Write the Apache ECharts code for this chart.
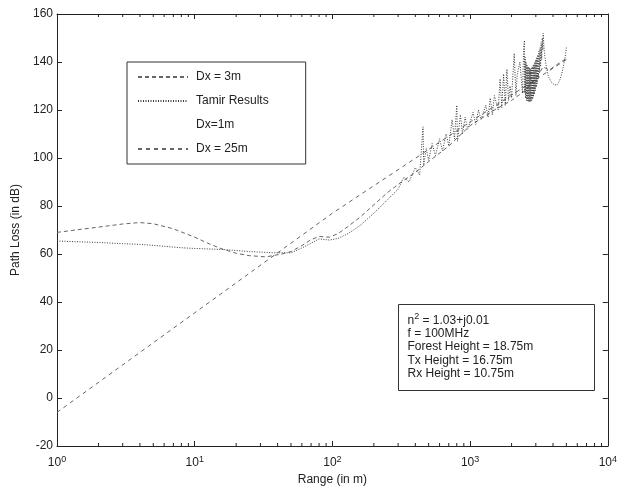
<!DOCTYPE html>
<html>
<head>
<meta charset="utf-8">
<script src="https://cdn.jsdelivr.net/npm/echarts@6/dist/echarts.min.js"></script>
<style>
  html, body { margin: 0; padding: 0; background: #fff; }
  #chart { width: 620px; height: 491px; }
</style>
</head>
<body>
<div id="chart"></div>
<script>
// Path loss vs range over a forest, several step sizes
const dx3Range = [1, 1.5, 2, 3, 4, 5, 7, 10, 13, 16, 20, 25, 33, 43, 50, 60, 70, 80, 95, 110, 130, 160, 200, 250, 300, 400, 500, 700, 1000, 1500, 2000, 2500, 3000, 3390, 3740, 4300, 5000];
const dx3Loss  = [69, 70.3, 71.2, 72.5, 73.1, 72.6, 70.5, 67, 64, 62, 60.3, 59.3, 58.8, 60, 61, 63.5, 66, 67.3, 67, 68.5, 71.5, 75.5, 80.5, 85.5, 89, 94, 98.5, 105, 113.5, 120, 124, 128, 133, 138, 136.6, 139, 141.5];

const tamirRange = [1, 2, 3, 4, 5, 8, 10, 16, 25, 38, 50, 60, 70, 80, 95, 110, 130, 160, 200, 250,
  300, 330, 360, 400, 430, 455, 460, 480, 500, 530, 560, 600, 630, 670, 700, 740, 770, 800, 810, 850, 880, 920, 960, 1000,
  1050, 1100, 1150, 1200, 1300, 1350, 1400, 1450, 1500, 1600, 1650, 1700, 1750, 1800, 1850, 1900, 1950, 2000, 2090, 2150, 2200, 2300, 2400, 2450,
  2480, 2495, 2510, 2525, 2545, 2565, 2585, 2605, 2625, 2645, 2665, 2685, 2705, 2725, 2745, 2765, 2785, 2805, 2825, 2845, 2865, 2885, 2905, 2925,
  2950, 2975, 3000, 3025, 3050, 3075, 3100, 3130, 3160, 3190, 3220, 3250, 3280, 3310, 3340, 3370, 3390,
  3450, 3550, 3700, 3900, 4100, 4280, 4450, 4600, 4750, 4900, 5000];
const tamirLoss = [65.4, 64.8, 64.3, 64, 63.6, 62.6, 62.3, 61.9, 61, 60.5, 60.5, 62.5, 64.5, 66.3, 65.8, 66.5, 68.5, 72, 77, 82.5,
  87, 92, 90, 96, 93, 113, 97, 104, 99, 106, 101, 108, 103, 110, 105, 116, 108, 122, 107, 118, 110, 117, 112, 115,
  119, 114, 120, 116, 122, 117, 125, 118, 126, 120, 133, 121, 135, 122, 137, 124, 130, 125, 143.6, 126, 135, 140, 127, 146,
  149, 127, 142, 125, 140, 124, 139, 123.8, 138, 123.5, 138, 123.3, 137.5, 123.5, 137, 123.5, 137.5, 124, 138, 124.5, 138.5, 125.5, 139, 126.5,
  140, 128, 141, 129.5, 142, 131, 143, 133, 144.5, 135.5, 146, 138, 148, 141, 150, 145, 152,
  145, 139, 134, 131.5, 130.5, 130.5, 132, 134.5, 138, 142, 146];

// no samples are plotted for the 1 m step
const dx1Range = [];
const dx1Loss  = [];

const dx25Range = [1, 10, 100, 1000, 5000];
const dx25Loss  = [-6, 35.5, 77, 115, 141];

const yTicks = [-20, 0, 20, 40, 60, 80, 100, 120, 140, 160];
const minorTickValues = [2, 3, 4, 5, 6, 7, 8, 9, 20, 30, 40, 50, 60, 70, 80, 90,
  200, 300, 400, 500, 600, 700, 800, 900, 2000, 3000, 4000, 5000, 6000, 7000, 8000, 9000];

const infoLines = ['n{sup|2} = 1.03+j0.01', 'f = 100MHz', 'Forest Height = 18.75m', 'Tx Height = 16.75m', 'Rx Height = 10.75m'];

const pairs = (xs, ys) => xs.map((x, i) => [x, ys[i]]);
const FONT = '"Liberation Sans", Arial, sans-serif';
const INK = '#222';
const FS = 12;

const chart = echarts.init(document.getElementById('chart'));

const axisCommon = {
  axisLine: { show: true, onZero: false, lineStyle: { color: INK, width: 1 } },
  axisTick: { show: true, inside: true, length: 5, lineStyle: { color: INK } },
  splitLine: { show: false }
};

const supRich = { sup: { fontSize: 9, fontFamily: FONT, color: INK, verticalAlign: 'top', padding: [0, 0, 7, 0] } };
const hidden = { color: 'rgba(0,0,0,0)', opacity: 0 };

chart.setOption({
  animation: false,
  backgroundColor: '#fff',
  grid: { left: 57, right: 9, top: 14, bottom: 40 },
  legend: {
    orient: 'vertical',
    left: 127,
    top: 62,
    itemWidth: 50,
    itemHeight: 12,
    itemGap: 12,
    padding: [9, 37, 9, 10],
    borderColor: '#333',
    borderWidth: 1,
    backgroundColor: '#fff',
    itemStyle: { opacity: 0 },
    textStyle: { fontFamily: FONT, fontSize: FS, color: INK, padding: [0, 0, 0, 3] },
    data: ['Dx = 3m', 'Tamir Results', 'Dx=1m', 'Dx = 25m']
  },
  xAxis: [
    Object.assign({
      type: 'log', logBase: 10, min: 1, max: 10000, position: 'bottom',
      name: 'Range (in m)', nameLocation: 'middle', nameGap: 28,
      nameTextStyle: { fontFamily: FONT, fontSize: FS, color: INK },
      axisLabel: {
        margin: 9, fontFamily: FONT, fontSize: FS, color: INK,
        formatter: v => '10{sup|' + Math.round(Math.log10(v)) + '}',
        rich: supRich
      }
    }, axisCommon),
    Object.assign({
      type: 'log', logBase: 10, min: 1, max: 10000, position: 'top',
      axisLabel: { show: false }
    }, axisCommon)
  ],
  yAxis: [
    Object.assign({
      type: 'value', min: yTicks[0], max: yTicks[yTicks.length - 1], interval: 20, position: 'left',
      name: 'Path Loss (in dB)', nameLocation: 'middle', nameGap: 30,
      nameTextStyle: { fontFamily: FONT, fontSize: FS, color: INK },
      axisLabel: { margin: 4, fontFamily: FONT, fontSize: FS, color: INK }
    }, axisCommon),
    Object.assign({
      type: 'value', min: yTicks[0], max: yTicks[yTicks.length - 1], interval: 20, position: 'right',
      axisLabel: { show: false }
    }, axisCommon)
  ],
  graphic: [
    {
      type: 'group', left: 398, top: 304, silent: true,
      children: [
        { type: 'rect', shape: { x: 0, y: 0, width: 196, height: 86 },
          style: { fill: '#fff', stroke: '#333', lineWidth: 1 } }
      ].concat(infoLines.map((t, i) => ({
        type: 'text', x: 9, y: 16 + i * 13.3,
        style: { text: t, fontFamily: FONT, fontSize: FS, fill: INK, verticalAlign: 'middle', rich: {
          sup: { fontSize: 9, fontFamily: FONT, fill: INK, verticalAlign: 'top', padding: [0, 0, 7, 0] } } }
      })))
    }
  ],
  series: [
    {
      name: 'Dx = 3m', type: 'line', symbol: 'none', z: 3,
      data: pairs(dx3Range, dx3Loss),
      itemStyle: hidden,
      lineStyle: { color: '#666', width: 1, type: [4, 3] }
    },
    {
      name: 'Tamir Results', type: 'line', symbol: 'none', z: 4,
      data: pairs(tamirRange, tamirLoss),
      itemStyle: hidden,
      lineStyle: { color: '#3a3a3a', width: 1, type: [1, 1.5] }
    },
    {
      name: 'Dx=1m', type: 'line', symbol: 'none', z: 2,
      data: pairs(dx1Range, dx1Loss),
      itemStyle: hidden,
      lineStyle: { color: '#fff', width: 1, opacity: 0 }
    },
    {
      name: 'Dx = 25m', type: 'line', symbol: 'none', z: 3,
      data: pairs(dx25Range, dx25Loss),
      itemStyle: hidden,
      lineStyle: { color: '#666', width: 1, type: [4, 4] }
    },
    {
      // logarithmic minor ticks (2..9 per decade) on bottom and top edges
      type: 'custom', silent: true, z: 5,
      data: minorTickValues,
      renderItem: (params, api) => {
        const v = api.value(0);
        const b = api.coord([v, yTicks[0]]);
        const t = api.coord([v, yTicks[yTicks.length - 1]]);
        const st = { stroke: INK, lineWidth: 1 };
        return {
          type: 'group',
          children: [
            { type: 'line', shape: { x1: b[0], y1: b[1], x2: b[0], y2: b[1] - 3 }, style: st },
            { type: 'line', shape: { x1: t[0], y1: t[1], x2: t[0], y2: t[1] + 3 }, style: st }
          ]
        };
      },
      encode: { x: 0 }
    }
  ]
});
</script>
</body>
</html>
